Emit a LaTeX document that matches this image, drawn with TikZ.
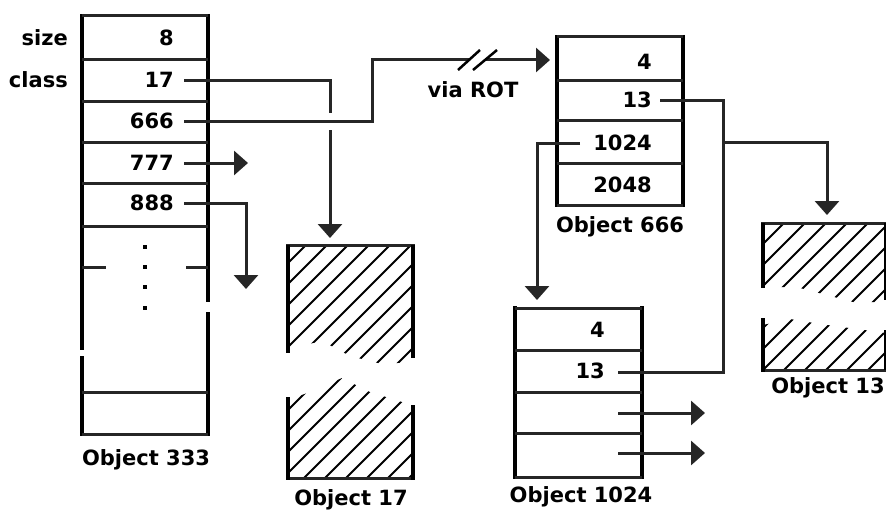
\documentclass[tikz,border=0pt]{standalone}
\usepackage{fontspec}
\setmainfont{DejaVu Sans}
\usetikzlibrary{arrows.meta}
\begin{document}
\begin{tikzpicture}[x=1pt,y=-1pt,
  side/.style={line width=4pt},
  rowline/.style={line width=3pt,black!85},
  conn/.style={line width=3pt,black!85},
  arr/.style={conn,-{Triangle[width=24pt,length=14pt]}},
  val/.style={anchor=east,inner sep=0pt,font=\fontsize{21}{25}\selectfont\bfseries},
  lab/.style={inner sep=0pt,font=\fontsize{21}{25}\selectfont\bfseries},
  hatchline/.style={line width=1.8pt},
  dot/.style={fill=black,minimum size=4pt,inner sep=0pt},
]
\useasboundingbox (0,0) rectangle (886,511);

% ---------------- Object 333 ----------------
\draw[side] (82,14) -- (82,350) (82,356) -- (82,436);
\draw[side] (208,14) -- (208,302) (208,312) -- (208,436);
\foreach \yy in {16,60,101,142,183,226,392,434}
  \draw[rowline] (82,\yy) -- (208,\yy);
\draw[rowline] (82,267) -- (106,267) (186,267) -- (208,267);
\foreach \yy/\nm in {247/d1,267/d2,287/d3,308/d4}
  \node[dot] (\nm) at (145,\yy) {};
\node[val] (v8) at (174,38) {8};
\node[val] (v17) at (174,80) {17};
\node[val] (v666) at (174,121) {666};
\node[val] (v777) at (174,163) {777};
\node[val] (v888) at (174,203) {888};
\node[val] (lsize) at (68,38) {size};
\node[val] (lclass) at (68,80) {class};
\node[lab] (l333) at (146,460) {Object 333};
\coordinate (p17) at (184,80);
\coordinate (p666) at (184,121);
\coordinate (p777) at (184,163);
\coordinate (p888) at (184,203);

% ---------------- Object 17 ----------------
\begin{scope}
  \clip (288,245) -- (413,245) -- (413,362) -- (382,364) -- (350,356) -- (322,341) -- (300,346) -- (288,352) -- cycle;
  \foreach \c in {509,530,...,900}
    \draw[hatchline] (\c-245,245) -- (\c-480,480);
\end{scope}
\begin{scope}
  \clip (288,400) -- (310,392) -- (342,378) -- (370,392) -- (402,402) -- (413,405) -- (413,478) -- (288,478) -- cycle;
  \foreach \c in {509,530,...,900}
    \draw[hatchline] (\c-245,245) -- (\c-480,480);
\end{scope}
\draw[rowline] (286,245) -- (415,245) (286,478) -- (415,478);
\draw[side] (288,245) -- (288,353) (288,397) -- (288,480);
\draw[side] (413,245) -- (413,358) (413,405) -- (413,480);
\coordinate (t17) at (330,238);
\node[lab] (l17) at (351,500) {Object 17};

% ---------------- Object 666 ----------------
\draw[side] (557,35) -- (557,207);
\draw[side] (683,35) -- (683,207);
\foreach \yy in {37,80,120,163,205}
  \draw[rowline] (557,\yy) -- (683,\yy);
\node[val] (w4) at (652,62) {4};
\node[val] (w13) at (652,100) {13};
\node[val] (w1024) at (652,143) {1024};
\node[val] (w2048) at (652,185) {2048};
\node[lab] (l666) at (620,227) {Object 666};
\coordinate (q13) at (660,100);
\coordinate (q1024) at (580,143);
\coordinate (t666) at (550,60);

% ---------------- Object 1024 ----------------
\draw[side] (515,306) -- (515,479);
\draw[side] (642,306) -- (642,479);
\foreach \yy in {308,350,392,433,477}
  \draw[rowline] (515,\yy) -- (642,\yy);
\node[val] (u4) at (605,330) {4};
\node[val] (u13) at (605,371) {13};
\node[lab] (l1024) at (581,497) {Object 1024};
\coordinate (r13) at (618,372);
\coordinate (r3) at (618,413);
\coordinate (r4) at (618,453);
\coordinate (t1024) at (537,300);
\coordinate (e3) at (705,413);
\coordinate (e4) at (705,453);

% ---------------- Object 13 ----------------
\begin{scope}
  \clip (763,223) -- (886,223) -- (886,302) -- (853,302) -- (800,288) -- (763,286) -- cycle;
  \foreach \c in {986,1007,...,1300}
    \draw[hatchline] (\c-223,223) -- (\c-370,370);
\end{scope}
\begin{scope}
  \clip (763,325) -- (790,319) -- (820,324) -- (886,333) -- (886,370) -- (763,370) -- cycle;
  \foreach \c in {986,1007,...,1300}
    \draw[hatchline] (\c-223,223) -- (\c-370,370);
\end{scope}
\draw[rowline] (761,223) -- (886,223) (761,370) -- (886,370);
\draw[side] (763,223) -- (763,288) (763,318) -- (763,372);
\draw[line width=2pt] (885,223) -- (885,300) (885,330) -- (885,370);
\coordinate (t13) at (827,215);
\node[lab] (l13) at (828,388) {Object 13};

% ---------------- Connectors ----------------
\draw[arr] (p17) -| (t17);
\fill[white] (325,113) rectangle (335,130);
\coordinate (b666) at (372,60);
\coordinate (s1) at (469,60);
\coordinate (s2) at (485,60);
\draw[conn] (p666) -| (b666) -- (s1);
\draw[arr] (s2) -- (t666);
\draw[line width=2.5pt] (458,70) -- (480,50);
\draw[line width=2.5pt] (473,70) -- (497,50);
\node[lab] (rot) at (473,90) {via ROT};
\coordinate (e777) at (248,163);
\draw[arr] (p777) -- (e777);
\coordinate (t888) at (246,289);
\draw[arr] (p888) -| (t888);

\coordinate (j13) at (723,142);
\draw[conn] (q13) -| (r13 -| j13) -- (r13);
\draw[arr] (j13) -| (t13);
\draw[arr] (q1024) -| (t1024);
\draw[arr] (r3) -- (e3);
\draw[arr] (r4) -- (e4);
\end{tikzpicture}
\end{document}
